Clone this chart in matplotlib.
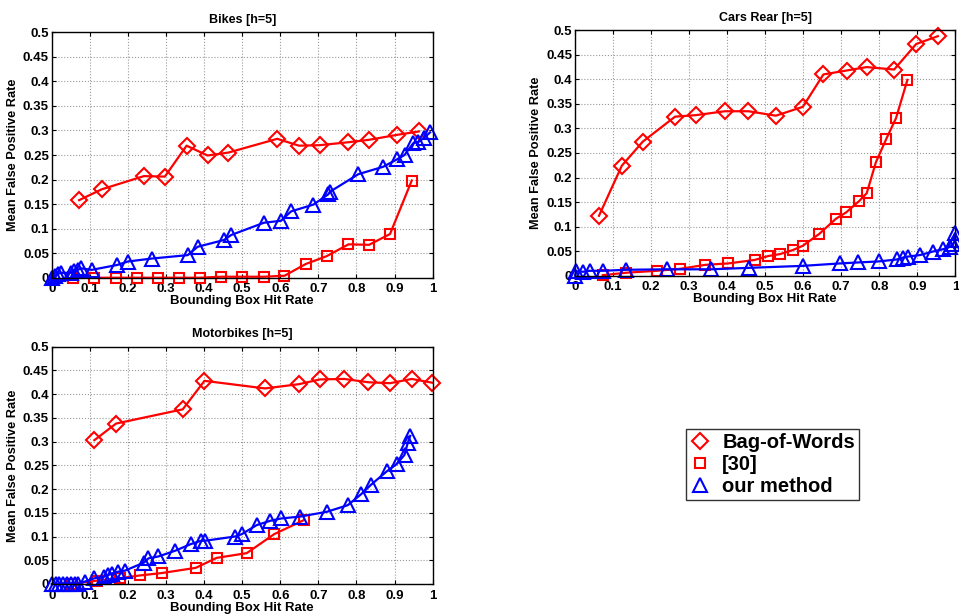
import matplotlib
matplotlib.use('Agg')
import matplotlib.pyplot as plt
import numpy as np

plt.rcParams['font.family'] = ['Liberation Sans', 'DejaVu Sans']
plt.rcParams['font.weight'] = 'bold'

# ---- Bikes ----
bikes_bow_x = [0.072, 0.131, 0.242, 0.297, 0.354, 0.409, 0.464, 0.592, 0.649, 0.703, 0.779, 0.833, 0.906, 0.964]
bikes_bow_y = [0.158, 0.180, 0.207, 0.206, 0.269, 0.249, 0.255, 0.283, 0.269, 0.270, 0.276, 0.281, 0.291, 0.298]
bikes_ref_x = [0.057, 0.112, 0.168, 0.223, 0.280, 0.335, 0.389, 0.444, 0.500, 0.556, 0.611, 0.667, 0.722, 0.779, 0.833, 0.888, 0.945]
bikes_ref_y = [0.0, 0.0, 0.0, 0.0, 0.0, 0.0, 0.0, 0.002, 0.002, 0.002, 0.004, 0.028, 0.044, 0.068, 0.067, 0.089, 0.198]
bikes_our_x = [0.0, 0.008, 0.017, 0.025, 0.05, 0.058, 0.068, 0.078, 0.105, 0.172, 0.200, 0.262, 0.357, 0.383,
               0.453, 0.471, 0.557, 0.602, 0.628, 0.687, 0.726, 0.730, 0.805, 0.870, 0.906, 0.926, 0.949,
               0.962, 0.976, 0.993]
bikes_our_y = [0.0, 0.004, 0.008, 0.010, 0.010, 0.014, 0.016, 0.019, 0.016, 0.026, 0.033, 0.039, 0.046, 0.063,
               0.077, 0.087, 0.112, 0.116, 0.135, 0.149, 0.170, 0.175, 0.211, 0.226, 0.241, 0.250, 0.274,
               0.277, 0.284, 0.296]

# ---- Cars Rear ----
cars_bow_x = [0.063, 0.123, 0.178, 0.263, 0.317, 0.394, 0.456, 0.528, 0.599, 0.653, 0.714, 0.767, 0.839, 0.897, 0.954]
cars_bow_y = [0.122, 0.224, 0.273, 0.324, 0.327, 0.335, 0.335, 0.326, 0.344, 0.410, 0.418, 0.425, 0.420, 0.472, 0.488]
cars_ref_x = [0.073, 0.134, 0.215, 0.276, 0.342, 0.403, 0.472, 0.508, 0.539, 0.572, 0.599, 0.642, 0.686, 0.713,
              0.747, 0.767, 0.791, 0.818, 0.844, 0.874]
cars_ref_y = [0.001, 0.006, 0.010, 0.014, 0.022, 0.025, 0.032, 0.040, 0.044, 0.052, 0.061, 0.085, 0.116, 0.129,
              0.152, 0.168, 0.231, 0.278, 0.321, 0.399]
cars_our_x = [0.0, 0.003, 0.022, 0.039, 0.074, 0.134, 0.241, 0.357, 0.458, 0.599, 0.697, 0.745, 0.798, 0.846,
              0.863, 0.876, 0.907, 0.940, 0.968, 0.986, 0.995, 0.999, 1.0]
cars_our_y = [0.0, 0.009, 0.008, 0.010, 0.010, 0.012, 0.013, 0.013, 0.016, 0.020, 0.025, 0.027, 0.029, 0.033,
              0.037, 0.039, 0.042, 0.049, 0.054, 0.059, 0.065, 0.073, 0.086]

# ---- Motorbikes ----
moto_bow_x = [0.112, 0.169, 0.344, 0.401, 0.560, 0.649, 0.704, 0.768, 0.831, 0.888, 0.945, 0.999]
moto_bow_y = [0.303, 0.338, 0.368, 0.428, 0.412, 0.421, 0.431, 0.432, 0.425, 0.423, 0.432, 0.424]
moto_ref_x = [0.052, 0.118, 0.178, 0.232, 0.289, 0.378, 0.433, 0.512, 0.584, 0.663]
moto_ref_y = [0.0, 0.007, 0.012, 0.018, 0.023, 0.034, 0.055, 0.065, 0.105, 0.135]
moto_our_x = [0.0, 0.01, 0.02, 0.03, 0.04, 0.05, 0.06, 0.07, 0.087, 0.112, 0.136, 0.149, 0.157, 0.175, 0.192,
              0.242, 0.254, 0.280, 0.324, 0.365, 0.392, 0.402, 0.481, 0.499, 0.538, 0.573, 0.602, 0.652,
              0.722, 0.777, 0.812, 0.838, 0.879, 0.906, 0.926, 0.934, 0.941]
moto_our_y = [0.0, 0.0, 0.0, 0.0, 0.0, 0.0, 0.0, 0.0, 0.005, 0.012, 0.015, 0.019, 0.022, 0.026, 0.028,
              0.045, 0.054, 0.058, 0.070, 0.084, 0.091, 0.091, 0.100, 0.105, 0.124, 0.133, 0.138, 0.142,
              0.152, 0.166, 0.189, 0.209, 0.237, 0.253, 0.272, 0.296, 0.312]

panels = [
    ('Bikes [h=5]', [0.0539, 0.5477, 0.3973, 0.3997],
     (bikes_bow_x, bikes_bow_y), (bikes_ref_x, bikes_ref_y), (bikes_our_x, bikes_our_y)),
    ('Cars Rear [h=5]', [0.5996, 0.5510, 0.3966, 0.3997],
     (cars_bow_x, cars_bow_y), (cars_ref_x, cars_ref_y), (cars_our_x, cars_our_y)),
    ('Motorbikes [h=5]', [0.0539, 0.0489, 0.3973, 0.3865],
     (moto_bow_x, moto_bow_y), (moto_ref_x, moto_ref_y), (moto_our_x, moto_our_y)),
]

fig = plt.figure(figsize=(9.59, 6.14), dpi=100)
mk = dict(mfc='none', mew=1.5, lw=1.6, clip_on=False)
handles = None
for title, pos, bow, ref, our in panels:
    ax = fig.add_axes(pos)
    h1, = ax.plot(bow[0], bow[1], '-', color='red', marker='D', ms=8.5, mec='red', label='Bag-of-Words', **mk)
    h2, = ax.plot(ref[0], ref[1], '-', color='red', marker='s', ms=7, mec='red', label='[30]', **mk)
    h3, = ax.plot(our[0], our[1], '-', color='blue', marker='^', ms=9.5, mec='blue', label='our method', **mk)
    handles = [h1, h2, h3]
    ax.set_xlim(0, 1)
    ax.set_ylim(0, 0.5)
    ax.set_xticks(np.arange(0, 1.01, 0.1))
    ax.set_xticklabels(['0'] + ['%.1f' % v for v in np.arange(0.1, 0.95, 0.1)] + ['1'])
    ax.set_yticks(np.arange(0, 0.501, 0.05))
    ax.set_yticklabels(['0'] + ['%g' % round(v, 2) for v in np.arange(0.05, 0.501, 0.05)])
    ax.tick_params(direction='in', top=True, right=True, labelsize=9.5, length=3)
    ax.tick_params(axis='x', pad=4)
    ax.tick_params(axis='y', pad=2)
    ax.grid(True, linestyle=':', color='#999999', lw=0.8)
    ax.set_title(title, fontsize=9, fontweight='bold', pad=7)
    ax.set_xlabel('Bounding Box Hit Rate', fontsize=9.5, fontweight='bold', labelpad=0)
    ax.set_ylabel('Mean False Positive Rate', fontsize=9.2, fontweight='bold', labelpad=3)
    for s in ax.spines.values():
        s.set_linewidth(1.0)

leg = fig.legend(handles, [h.get_label() for h in handles], loc='upper left',
                 bbox_to_anchor=(0.7153, 0.3013), frameon=True, fancybox=False, borderaxespad=0,
                 edgecolor='black', handlelength=1.0, handletextpad=0.6, borderpad=0.2,
                 labelspacing=0.15, prop={'weight': 'bold', 'size': 14.5})
leg.get_frame().set_linewidth(1.0)
for h in leg.legend_handles:
    h.set_linestyle('none')

fig.savefig('out.png', dpi=100)
